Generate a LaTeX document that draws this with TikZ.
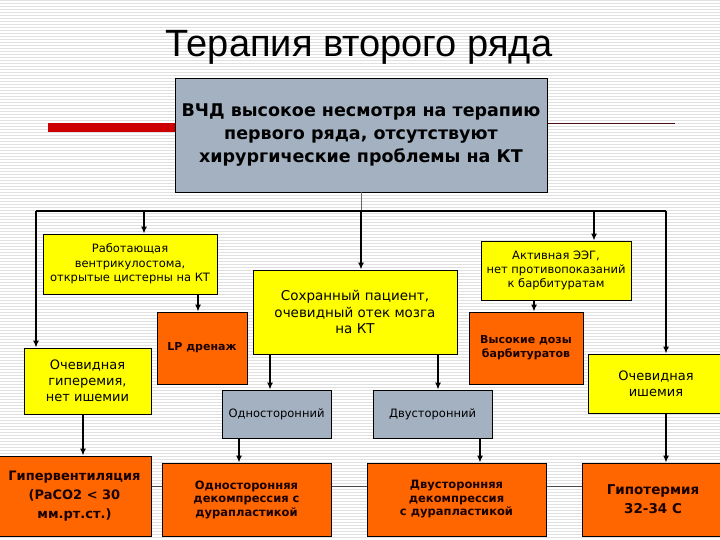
\documentclass[tikz,border=0pt]{standalone}
\usepackage{fontspec}
\setmainfont{DejaVu Sans}
\newfontfamily\titlefont{Liberation Sans}
\usetikzlibrary{arrows.meta,positioning,calc}
\definecolor{boxgray}{HTML}{A3B1C1}
\definecolor{boxyellow}{HTML}{FFFF00}
\definecolor{boxorange}{HTML}{FF6600}
\definecolor{barred}{HTML}{CC0000}
\definecolor{linered}{HTML}{4A1010}
\tikzset{
  cell/.style={draw=black, line width=0.8pt, align=center, inner sep=1pt},
  ybox/.style={cell, fill=boxyellow},
  obox/.style={cell, fill=boxorange, text=black!90!red},
  gbox/.style={cell, fill=boxgray},
  arr/.style={-{Latex[length=7pt,width=6pt]}, line width=1.5pt},
  bus/.style={line width=1.5pt},
  stripe/.style={black!12, line width=0.9pt}
}
\newcommand{\fs}[2]{\fontsize{#1}{#2}\selectfont}

\begin{document}
\begin{tikzpicture}[x=1pt, y=-1pt]
\useasboundingbox (0,0) rectangle (720,540);
% slide background
\foreach \yy in {0,3,...,540}
  \draw[stripe] (0,\yy) -- (720,\yy);
\fill[barred] (48,123) rectangle (175,132);
\draw[linered, line width=1pt] (547,123.5) -- (675,123.5);
\draw[black!70, line width=0.8pt] (0,486) -- (720,486);

\node[anchor=base, font=\titlefont\fs{38}{40}] (title) at (359,57) {Терапия второго ряда};

\node[gbox, minimum width=372pt, minimum height=114pt, font=\bfseries\fs{17.5}{23}] (top) at (361,135)
  {ВЧД высокое несмотря на терапию\\первого ряда, отсутствуют\\ хирургические проблемы на КТ};

\node[ybox, minimum width=174pt, minimum height=60pt, font=\fs{11.5}{14.5}] (work) at (130,264)
  {Работающая\\вентрикулостома,\\открытые цистерны на КТ};
\node[obox, minimum width=90pt, minimum height=72pt, font=\bfseries\fs{11}{14}] (lp) at (202,348) {LP дренаж};
\node[ybox, minimum width=204pt, minimum height=84pt, font=\fs{13.5}{16.5}] (save) at (355,312)
  {Сохранный пациент,\\очевидный отек мозга\\на КТ};
\node[ybox, minimum width=150pt, minimum height=59pt, font=\fs{11.5}{14}] (eeg) at (556,270.5)
  {Активная ЭЭГ,\\нет противопоказаний\\к барбитуратам};
\node[obox, minimum width=114pt, minimum height=72pt, font=\bfseries\fs{11}{14}] (barb) at (526,348)
  {Высокие дозы\\барбитуратов};
\node[ybox, minimum width=127pt, minimum height=66pt, font=\fs{13}{16}] (hyper) at (87.5,381)
  {Очевидная\\гиперемия,\\нет ишемии};
\node[ybox, minimum width=136pt, minimum height=59pt, font=\fs{13}{16}] (isch) at (656,383.5)
  {Очевидная\\ишемия};
\node[gbox, minimum width=109pt, minimum height=48pt, font=\fs{11.5}{14}] (uni) at (276.5,414) {Односторонний};
\node[gbox, minimum width=119pt, minimum height=48pt, font=\fs{11.5}{14}] (bi) at (432.5,414) {Двусторонний};

\node[obox, minimum width=153pt, minimum height=80pt, font=\bfseries\fs{13}{19}] (hv) at (74.5,496)
  {Гипервентиляция\\(PaCO2 < 30\\мм.рт.ст.)};
\node[obox, minimum width=169pt, minimum height=73pt, font=\bfseries\fs{11.5}{13.5}] (unidec) at (246.5,499.5)
  {Односторонняя\\декомпрессия с\\дурапластикой};
\node[obox, minimum width=179pt, minimum height=73pt, font=\bfseries\fs{11.5}{13.5}] (bidec) at (456.5,499.5)
  {Двусторонняя\\декомпрессия\\с дурапластикой};
\node[obox, minimum width=142pt, minimum height=73pt, font=\bfseries\fs{13.5}{19}] (hypo) at (653,499.5)
  {Гипотермия\\32-34 С};

% connectors
\coordinate (busL) at (36,211);
\coordinate (busR) at (666,211);
\coordinate (d1) at (144,211);
\coordinate (d2) at (594,211);
\draw[black!60, line width=0.8pt] (top.south) -- (top.south |- busL);
\draw[bus] (busL) -- (busR);
\draw[arr] (busL) -- (busL |- hyper.north);
\draw[arr] (d1) -- (d1 |- work.north);
\draw[arr] (top.south |- busL) -- (top.south |- save.north);
\draw[arr] (d2) -- (d2 |- eeg.north);
\draw[arr] (busR) -- (busR |- isch.north);
\draw[arr] ([xshift=68pt]work.south) -- ([xshift=68pt]work.south |- lp.north);
\draw[arr] ([xshift=-22pt]eeg.south) -- ([xshift=-22pt]eeg.south |- barb.north);
\draw[arr] ([xshift=-85pt]save.south) -- ([xshift=-85pt]save.south |- uni.north);
\draw[arr] ([xshift=83pt]save.south) -- ([xshift=83pt]save.south |- bi.north);
\draw[arr] ([xshift=-4.5pt]hyper.south) -- ([xshift=-4.5pt]hyper.south |- hv.north);
\draw[arr] ([xshift=-37.5pt]uni.south) -- ([xshift=-37.5pt]uni.south |- unidec.north);
\draw[arr] ([xshift=47.5pt]bi.south) -- ([xshift=47.5pt]bi.south |- bidec.north);
\draw[arr] ([xshift=10pt]isch.south) -- ([xshift=10pt]isch.south |- hypo.north);
\end{tikzpicture}
\end{document}
